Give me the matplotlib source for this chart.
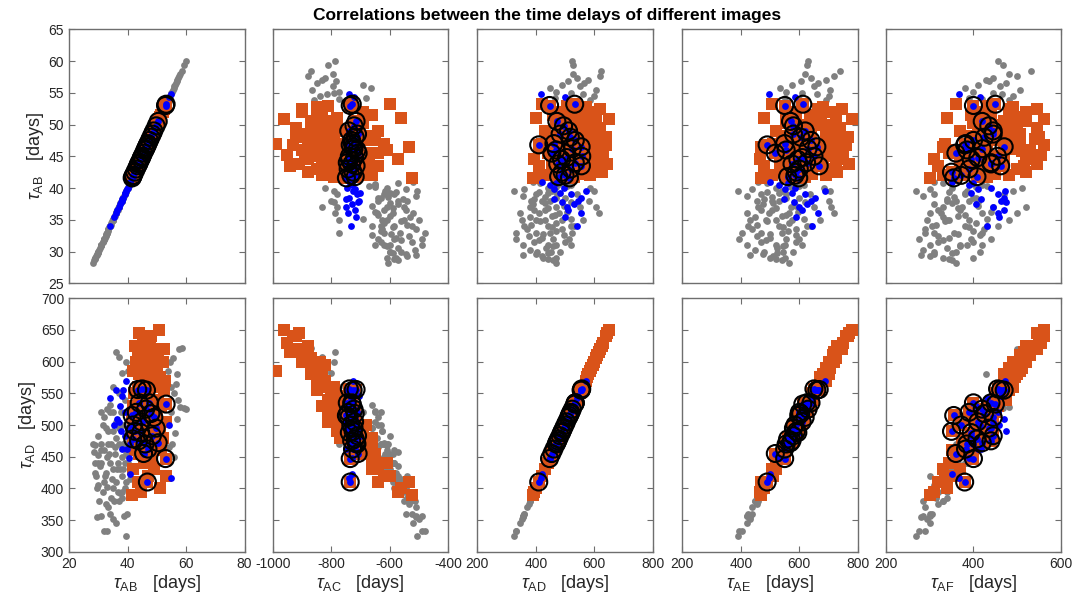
import matplotlib
matplotlib.use('Agg')
import matplotlib.pyplot as plt

plt.rcParams['font.family'] = ['Liberation Sans', 'DejaVu Sans']
plt.rcParams['mathtext.fontset'] = 'custom'
plt.rcParams['mathtext.rm'] = 'Liberation Sans'
plt.rcParams['mathtext.it'] = 'Liberation Sans:italic'
plt.rcParams['axes.unicode_minus'] = False

# ---------------- data (time delays in days) ----------------
# grey: all other samples
grey_AB = [60.0, 59.3, 58.5, 57.6, 57.0, 56.5, 56.0, 55.5, 55.0, 54.5, 54.0, 56.2, 54.2, 55.2, 57.3, 58.0, 54.8, 53.8, 55.8, 56.8,
           28.2, 28.6, 29.0, 29.3, 30.0, 30.2, 29.5, 31.0, 32.0, 33.0, 32.5, 33.5, 34.0, 35.0, 36.0, 37.0, 38.0, 39.5, 39.0, 38.0,
           36.0, 35.0, 34.0, 33.0, 32.0, 31.0, 30.0, 31.5, 32.0, 33.0, 34.0, 35.0, 36.0, 37.0, 38.0, 36.0, 37.0, 38.0, 39.5, 40.0,
           37.0, 35.0, 34.0, 39.0, 40.5, 38.5, 39.0, 40.0, 40.8, 39.8, 38.8, 37.5, 35.0, 33.0, 31.0, 30.0, 29.0, 31.0, 36.5, 34.5,
           33.5, 37.8, 40.2, 38.2, 41.0, 30.5, 32.8, 36.2, 39.2, 35.5,
           29.8, 31.5, 32.2, 33.8, 34.8, 35.8, 36.8, 37.2, 38.6, 39.6, 40.6, 35.2, 33.2, 30.8, 28.8, 31.8, 34.2, 36.6, 38.4, 40.4,
           37.6, 32.6, 29.6, 35.6, 39.4]
grey_AD = [525, 527, 622, 620, 580, 565, 550, 605, 520, 600, 505, 488, 465, 470, 540, 528, 560, 585, 450, 510,
           470, 458, 425, 420, 405, 380, 355, 356, 333, 333, 376, 370, 360, 352, 345, 380, 385, 325, 400, 420,
           410, 430, 440, 450, 460, 470, 482, 500, 512, 525, 520, 490, 480, 470, 450, 615, 607, 582, 600, 585,
           550, 560, 532, 540, 522, 500, 472, 440, 415, 360, 356, 392, 400, 402, 440, 452, 468, 520, 430, 470,
           490, 520, 470, 395, 390, 435, 425, 505, 440, 380,
           440, 395, 420, 455, 415, 465, 440, 495, 430, 455, 480, 520, 470, 460, 440, 410, 385, 395, 470, 505,
           430, 495, 400, 455, 410]
grey_AC = [-787, -810, -870, -880, -830, -850, -795, -865, -790, -840, -775, -690, -680, -775, -820, -795, -815, -860, -665, -785,
           -605, -570, -580, -540, -560, -515, -510, -490, -490, -480, -535, -510, -525, -500, -520, -550, -540, -505, -585, -570,
           -590, -610, -585, -620, -585, -620, -600, -630, -640, -775, -630, -625, -645, -610, -640, -787, -830, -800, -790, -820,
           -780, -775, -660, -780, -650, -640, -620, -610, -570, -545, -510, -570, -550, -565, -600, -600, -610, -650, -620, -620,
           -625, -790, -650, -555, -520, -570, -595, -650, -600, -530,
           -590, -525, -580, -590, -560, -640, -590, -660, -605, -615, -650, -690, -630, -610, -585, -560, -540, -545, -630, -670,
           -600, -660, -545, -600, -580]
grey_AE = [631, 625, 740, 720, 690, 665, 650, 705, 610, 700, 600, 575, 550, 555, 640, 620, 660, 690, 535, 605,
           565, 540, 500, 510, 480, 450, 430, 420, 395, 405, 455, 440, 425, 430, 420, 460, 455, 392, 470, 505,
           495, 520, 530, 540, 555, 550, 580, 590, 600, 615, 625, 575, 565, 570, 530, 720, 710, 700, 705, 685,
           650, 670, 640, 635, 615, 600, 555, 520, 490, 440, 420, 475, 485, 470, 520, 545, 550, 610, 505, 565,
           590, 620, 570, 480, 460, 525, 500, 595, 530, 450,
           525, 470, 500, 545, 490, 555, 520, 590, 505, 540, 570, 615, 560, 545, 520, 485, 455, 470, 555, 600,
           510, 590, 475, 540, 490]
grey_AF = [455, 467, 532, 500, 428, 475, 460, 505, 445, 490, 420, 410, 390, 400, 445, 480, 465, 480, 380, 435,
           360, 350, 330, 300, 310, 285, 280, 300, 275, 290, 320, 290, 305, 295, 300, 330, 340, 270, 310, 360,
           325, 340, 380, 355, 395, 370, 415, 400, 440, 420, 455, 390, 420, 375, 390, 500, 520, 470, 490, 510,
           445, 480, 430, 470, 420, 405, 380, 350, 330, 300, 285, 310, 345, 310, 385, 360, 400, 420, 370, 405,
           425, 410, 405, 340, 310, 340, 365, 440, 380, 330,
           350, 320, 345, 390, 335, 380, 365, 410, 355, 385, 395, 430, 400, 370, 345, 330, 315, 320, 400, 430,
           350, 415, 310, 365, 345]

# orange: samples passing the first constraint
orange_AB = [41.6, 42.0, 42.5, 43.0, 43.2, 43.5, 43.8, 44.0, 44.2, 44.5, 44.8, 45.0, 45.2, 45.5, 45.8, 46.0, 46.2, 46.5, 46.8, 47.0,
             47.2, 47.5, 47.8, 48.0, 48.2, 48.5, 48.8, 49.0, 49.2, 49.5, 49.8, 50.0, 50.3, 50.5, 50.8, 51.0, 51.2, 51.5, 52.0, 52.5,
             53.0, 42.2, 42.8, 43.0, 41.8, 44.0, 45.0, 46.0, 47.0, 48.0, 49.0, 50.0, 51.0, 52.0, 53.2, 42.0, 44.5, 46.5, 47.0, 43.5,
             42.5, 44.0, 45.5, 46.5, 47.5, 48.5, 49.5, 50.5, 52.5, 51.5, 42.0, 43.5, 45.0, 46.0, 48.0, 50.0, 44.5, 47.5, 52.8, 41.8]
orange_AD = [390, 430, 460, 600, 520, 410, 645, 580, 470, 620, 540, 500, 630, 440, 590, 610, 560, 480, 640, 420,
             600, 520, 625, 570, 450, 610, 590, 540, 500, 620, 580, 560, 470, 605, 650, 400, 575, 530, 600, 555,
             505, 550, 510, 480, 495, 455, 575, 520, 545, 495, 430, 510, 490, 480, 420, 585, 395, 410, 585, 615,
             625, 520, 470, 595, 455, 530, 600, 540, 620, 460, 470, 560, 615, 440, 640, 590, 505, 490, 570, 530]
orange_AC = [-525, -660, -672, -850, -790, -640, -910, -830, -670, -880, -800, -680, -950, -640, -860, -900, -790, -770, -930, -620,
             -840, -810, -880, -820, -660, -900, -850, -780, -775, -920, -870, -820, -690, -870, -960, -560, -840, -830, -900, -850,
             -810, -800, -780, -660, -770, -690, -840, -800, -770, -690, -640, -790, -780, -690, -600, -830, -570, -535, -990, -940,
             -880, -800, -660, -820, -650, -790, -870, -810, -900, -660, -680, -820, -890, -610, -920, -850, -780, -690, -850, -790]
orange_AE = [470, 505, 540, 700, 610, 480, 770, 680, 565, 745, 650, 600, 750, 520, 705, 720, 670, 575, 760, 510,
             720, 625, 735, 690, 545, 715, 690, 640, 590, 740, 700, 660, 555, 725, 780, 480, 675, 635, 705, 665,
             610, 645, 600, 565, 580, 535, 670, 610, 650, 585, 520, 615, 590, 580, 505, 690, 465, 470, 700, 725,
             730, 625, 560, 700, 540, 640, 705, 650, 745, 555, 550, 660, 720, 520, 765, 690, 595, 590, 680, 620]
orange_AF = [300, 330, 350, 500, 420, 320, 545, 470, 410, 520, 460, 440, 555, 345, 510, 530, 490, 380, 560, 335,
             490, 450, 540, 470, 395, 505, 485, 475, 410, 545, 500, 465, 400, 520, 560, 340, 495, 440, 520, 480,
             430, 450, 400, 390, 410, 370, 470, 430, 470, 425, 370, 440, 415, 420, 360, 480, 310, 330, 505, 515,
             520, 445, 380, 495, 400, 455, 495, 470, 545, 395, 375, 460, 530, 350, 550, 480, 435, 420, 490, 430]

# blue: samples passing the second constraint
blue_AB = [54.8, 54.3, 40.8, 40.5, 40.0, 39.8, 39.5, 39.0, 38.5, 38.0, 37.5, 37.0, 36.5, 36.0, 35.5, 34.0, 41.0, 39.2, 38.2, 37.8]
blue_AD = [417, 500, 470, 448, 495, 462, 570, 520, 555, 545, 530, 505, 510, 555, 500, 542, 422, 482, 462, 490]
blue_AC = [-740, -722, -735, -728, -745, -718, -725, -712, -738, -705, -730, -750, -720, -742, -715, -733, -728, -702, -748, -708]
blue_AE = [495, 587, 560, 530, 585, 550, 687, 620, 655, 640, 625, 600, 610, 665, 590, 645, 500, 575, 548, 582]
blue_AF = [366, 414, 400, 390, 440, 410, 473, 455, 470, 462, 405, 445, 470, 455, 458, 430, 352, 395, 418, 475]

# both constraints (circled)
both_AB = [53.2, 53.0, 50.5, 49.8, 49.0, 48.0, 47.5, 46.8, 46.5, 46.0, 45.5, 45.0, 44.8, 44.0, 43.8, 43.5, 43.0, 42.5, 42.0, 41.8,
           47.0, 48.5, 44.5, 46.2, 41.6]
both_AD = [533, 447, 472, 495, 512, 518, 535, 410, 555, 470, 455, 557, 505, 535, 475, 556, 520, 490, 500, 478,
           462, 483, 488, 525, 515]
both_AC = [-728, -735, -715, -722, -740, -718, -730, -735, -725, -712, -708, -738, -720, -745, -730, -715, -742, -725, -733, -718,
           -727, -710, -738, -722, -748]
both_AE = [612, 550, 570, 580, 620, 605, 640, 490, 660, 555, 518, 650, 610, 625, 575, 668, 600, 590, 585, 560,
           550, 580, 595, 630, 598]
both_AF = [450, 400, 420, 435, 445, 425, 400, 380, 470, 385, 360, 455, 410, 440, 440, 462, 390, 350, 372, 408,
           382, 445, 395, 420, 355]

names = ['AB', 'AC', 'AD', 'AE', 'AF']
row_vars = ['AB', 'AD']
grey = dict(zip(names, [grey_AB, grey_AC, grey_AD, grey_AE, grey_AF]))
orange = dict(zip(names, [orange_AB + both_AB, orange_AC + both_AC, orange_AD + both_AD,
                          orange_AE + both_AE, orange_AF + both_AF]))
blue = dict(zip(names, [blue_AB + both_AB, blue_AC + both_AC, blue_AD + both_AD,
                        blue_AE + both_AE, blue_AF + both_AF]))
both = dict(zip(names, [both_AB, both_AC, both_AD, both_AE, both_AF]))

xlims = [(20, 80), (-1000, -400), (200, 800), (200, 800), (200, 600)]
xticks = [[20, 40, 60, 80], [-1000, -800, -600, -400], [200, 400, 600, 800], [200, 400, 600, 800], [200, 400, 600]]
ylims = [(25, 65), (300, 700)]
yticks = [list(range(25, 66, 5)), list(range(300, 701, 50))]

W, H = 1076, 601
fig = plt.figure(figsize=(W / 100, H / 100), dpi=100)
lefts = [69, 272.7, 477.3, 682.3, 885.7]
aw = 175.5
rows_px = [(29.3, 283.3), (298.3, 551.7)]

frame_col = '#6e6e6e'
text_col = '#262626'

for r, yv in enumerate(row_vars):
    top, bot = rows_px[r]
    for c, xv in enumerate(names):
        ax = fig.add_axes([lefts[c] / W, 1 - bot / H, aw / W, (bot - top) / H])
        ax.scatter(grey[xv], grey[yv], s=24, c='#808080', linewidths=0, zorder=2)
        ax.scatter(orange[xv], orange[yv], s=72, marker='s', c='#D95319', linewidths=0, zorder=3)
        ax.scatter(blue[xv], blue[yv], s=24, c='#0000FF', linewidths=0, zorder=4)
        ax.scatter(both[xv], both[yv], s=150, facecolors='none', edgecolors='black', linewidths=1.5, zorder=5)
        ax.set_xlim(*xlims[c])
        ax.set_ylim(*ylims[r])
        ax.set_xticks(xticks[c])
        ax.set_yticks(yticks[r])
        for sp in ax.spines.values():
            sp.set_color(frame_col)
            sp.set_linewidth(1.0)
        ax.tick_params(direction='in', top=True, right=True, length=4, width=0.8,
                       color=frame_col, labelcolor=text_col, labelsize=10)
        if r == 0:
            ax.set_xticklabels([])
        else:
            ax.set_xlabel(r'$\tau_{\mathrm{%s}}$   [days]' % xv, fontsize=13, color=text_col, labelpad=2)
        if c == 0:
            ax.set_ylabel(r'$\tau_{\mathrm{%s}}$   [days]' % yv, fontsize=13, color=text_col, labelpad=2)
        else:
            ax.set_yticklabels([])

fig.text(0.508, 0.975, 'Correlations between the time delays of different images',
         ha='center', va='center', fontsize=12.5, fontweight='bold', color='black')

fig.savefig('out.png', dpi=100)
